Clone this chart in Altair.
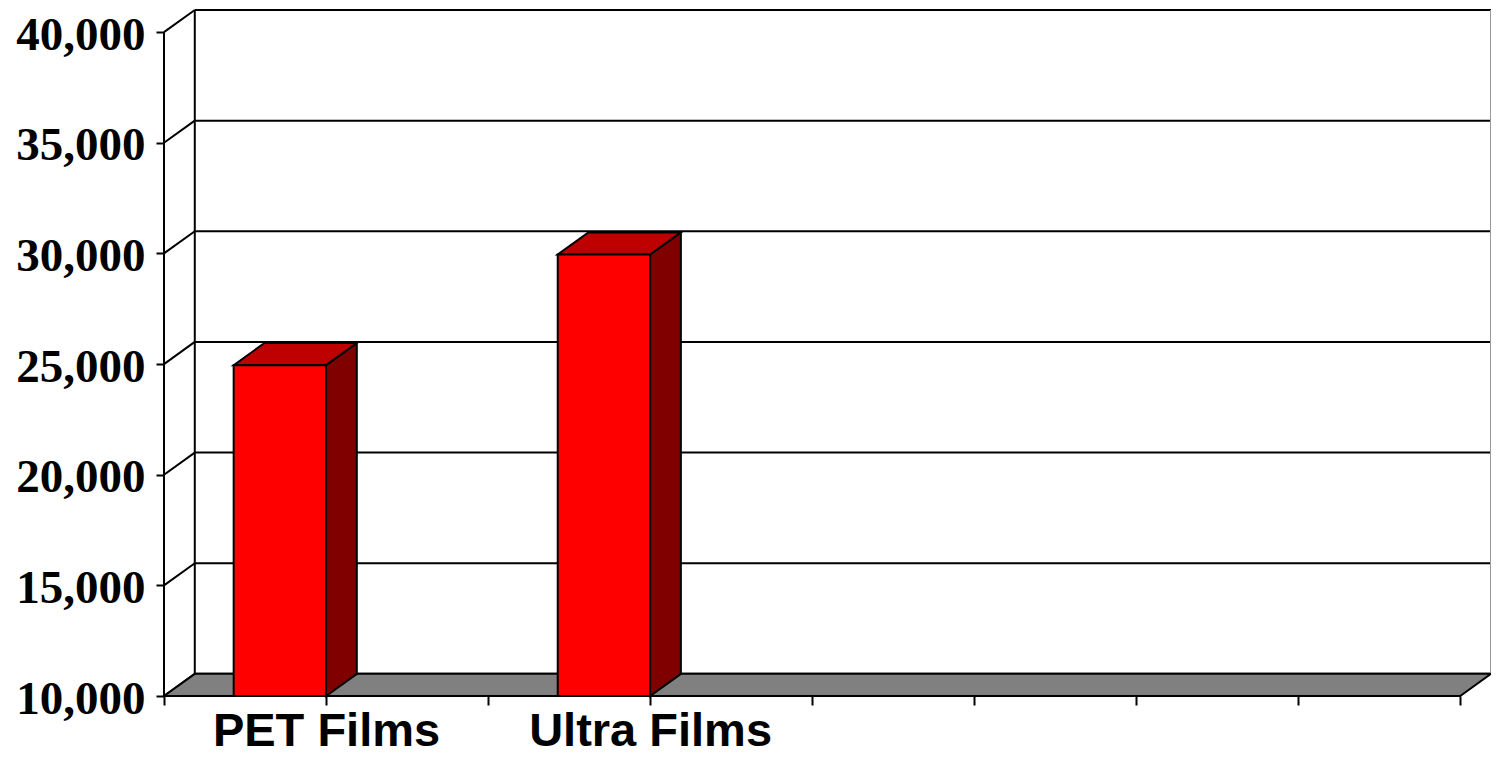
import altair as alt
import pandas as pd

# ---- data ----
categories = ["PET Films", "Ultra Films"]
values = [24950, 29950]
n_slots = 4                       # category slots on the floor (two empty)
y_ticks = [10000, 15000, 20000, 25000, 30000, 35000, 40000]
y_min, y_max = 10000, 40000

# ---- 3-D styling parameters ----
DEPTH_Y = 1000        # depth offset in y units
DEPTH_X = 0.19        # depth offset in x units (1 unit = half a category)
BAR_W = 0.57          # bar front face width in x units
NX = n_slots * 2      # x units across the front floor edge

RED, SIDE, TOP, FLOOR = "#FF0000", "#800000", "#BF0000", "#808080"

xs = alt.Scale(domain=[0, NX + DEPTH_X], nice=False, zero=False)
ys = alt.Scale(domain=[y_min, y_max + DEPTH_Y], nice=False, zero=False)

centers = [2 * i + 1 for i in range(len(categories))]

# back wall grid lines
grid = pd.DataFrame({"x": [DEPTH_X] * len(y_ticks), "x2": [NX + DEPTH_X] * len(y_ticks),
                     "y": [v + DEPTH_Y for v in y_ticks]})
# side wall diagonals
diag = pd.DataFrame({"x": [0] * len(y_ticks), "x2": [DEPTH_X] * len(y_ticks),
                     "y": y_ticks, "y2": [v + DEPTH_Y for v in y_ticks]})
# vertical edges
vert = pd.DataFrame({"x": [0, DEPTH_X], "y": [y_min, y_min + DEPTH_Y],
                     "y2": [y_max, y_max + DEPTH_Y]})
right_edge = pd.DataFrame({"x": [NX + DEPTH_X], "y": [y_min + DEPTH_Y], "y2": [y_max + DEPTH_Y]})
# floor
floor = pd.DataFrame({"y": [y_min, y_min + DEPTH_Y], "x": [0, DEPTH_X], "x2": [NX, NX + DEPTH_X]})

front_rows, side_rows, top_rows = [], [], []
for cat, c, v in zip(categories, centers, values):
    front_rows.append({"cat": cat, "x": c - BAR_W, "x2": c, "y": y_min, "y2": v})
    side_rows += [{"cat": cat, "x": c, "y": v, "y2": y_min},
                  {"cat": cat, "x": c + DEPTH_X, "y": v + DEPTH_Y, "y2": y_min + DEPTH_Y}]
    top_rows += [{"cat": cat, "y": v, "x": c - BAR_W, "x2": c},
                 {"cat": cat, "y": v + DEPTH_Y, "x": c - BAR_W + DEPTH_X, "x2": c + DEPTH_X}]
front = pd.DataFrame(front_rows)
side = pd.DataFrame(side_rows)
top = pd.DataFrame(top_rows)

label_map = "{" + ", ".join(f"'{c}': '{n}'" for c, n in zip(centers, categories)) + "}"

x_axis = alt.Axis(values=list(range(0, NX + 1)), labelExpr=f"({label_map})[datum.value] || ''",
                  domain=False, grid=False, tickSize=9, tickWidth=2, tickColor="black",
                  labelFont="Liberation Sans", labelFontWeight="bold", labelFontSize=47,
                  labelColor="black", labelPadding=3, labelFlush=False, labelOverlap=False,
                  labelLimit=0, title=None)
y_axis = alt.Axis(values=y_ticks, labelExpr="format(datum.value, ',')", domain=False,
                  grid=False, tickSize=8, tickWidth=2, tickColor="black",
                  labelFont="Liberation Serif", labelFontWeight="bold", labelFontSize=47,
                  labelColor="black", labelPadding=11, labelOffset=3, labelLimit=0,
                  title=None)

base_axes = alt.Chart(grid).mark_rule(strokeWidth=2, color="black").encode(
    x=alt.X("x:Q", scale=xs, axis=x_axis), x2="x2:Q",
    y=alt.Y("y:Q", scale=ys, axis=y_axis))

diag_l = alt.Chart(diag).mark_rule(strokeWidth=2, color="black").encode(
    x=alt.X("x:Q", scale=xs), x2="x2:Q", y=alt.Y("y:Q", scale=ys), y2="y2:Q")
vert_l = alt.Chart(vert).mark_rule(strokeWidth=2, color="black").encode(
    x=alt.X("x:Q", scale=xs), y=alt.Y("y:Q", scale=ys), y2="y2:Q")
right_l = alt.Chart(right_edge).mark_rule(strokeWidth=2, color="#999999").encode(
    x=alt.X("x:Q", scale=xs), y=alt.Y("y:Q", scale=ys), y2="y2:Q")
floor_l = alt.Chart(floor).mark_area(orient="horizontal", color=FLOOR, stroke="black",
                                     strokeWidth=2, opacity=1).encode(
    y=alt.Y("y:Q", scale=ys), x=alt.X("x:Q", scale=xs), x2="x2:Q")

front_l = alt.Chart(front).mark_rect(color=RED, stroke="black", strokeWidth=2).encode(
    x=alt.X("x:Q", scale=xs), x2="x2:Q", y=alt.Y("y:Q", scale=ys), y2="y2:Q")
side_l = alt.Chart(side).mark_area(color=SIDE, stroke="black", strokeWidth=2, opacity=1).encode(
    x=alt.X("x:Q", scale=xs), y=alt.Y("y:Q", scale=ys), y2="y2:Q", detail="cat:N")
top_l = alt.Chart(top).mark_area(orient="horizontal", color=TOP, stroke="black",
                                 strokeWidth=2, opacity=1).encode(
    y=alt.Y("y:Q", scale=ys), x=alt.X("x:Q", scale=xs), x2="x2:Q", detail="cat:N")

chart = alt.layer(base_axes, right_l, diag_l, vert_l, floor_l, side_l, top_l, front_l).properties(
    width=1327, height=686,
    autosize=alt.AutoSizeParams(type="none"),
    padding={"left": 156, "top": 2, "right": 0, "bottom": 60},
    background="white",
).configure_view(stroke=None)

chart.save("out.html", embed_options={"renderer": "svg", "actions": False})
